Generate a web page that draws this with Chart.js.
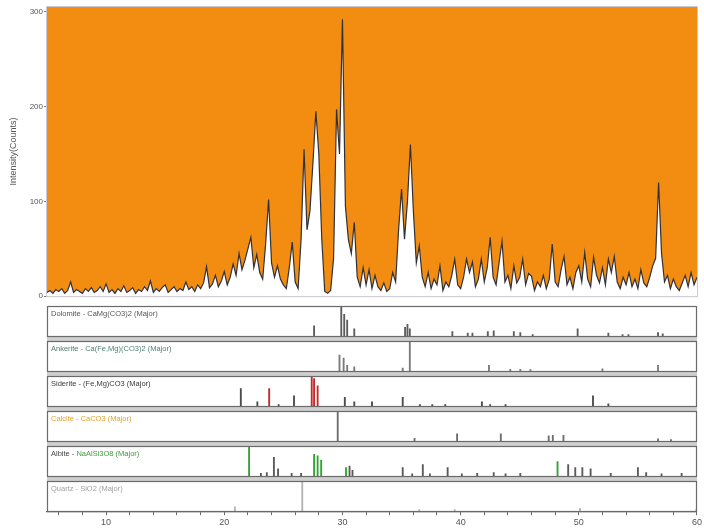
<!DOCTYPE html>
<html>
<head>
<meta charset="utf-8">
<script src="https://cdn.jsdelivr.net/npm/chart.js@4.4.1/dist/chart.umd.min.js"></script>
<style>
  body { margin: 0; background: #fff; }
  #wrap { position: relative; width: 704px; height: 530px; }
  #scan { position: absolute; left: 0; top: 0; }
  #sticks { position: absolute; left: 0; top: 302px; }
</style>
</head>
<body>
<div id="wrap">
  <canvas id="scan" width="704" height="302"></canvas>
  <canvas id="sticks" width="704" height="228"></canvas>
</div>
<script>
// measured scan, one value every 0.25 deg 2-theta starting at 5
const scanStart = 5;
const scanStep = 0.25;
const counts = [
  4, 6, 3, 7,        // 5
  5, 8, 3, 6,        // 6
  15, 4, 7, 5,       // 7
  3, 8, 5, 9,        // 8
  4, 6, 10, 5,       // 9
  13, 4, 7, 3,       // 10
  8, 5, 11, 4,       // 11
  6, 9, 3, 7,        // 12
  5, 10, 6, 16,      // 13
  4, 8, 5, 9,        // 14
  12, 4, 7, 10,      // 15
  5, 8, 6, 15,       // 16
  7, 10, 5, 12,      // 17
  8, 14, 31, 9,      // 18
  13, 22, 10, 16,    // 19
  26, 12, 20, 34,    // 20
  22, 45, 28, 38,    // 21
  50, 62, 30, 44,    // 22
  25, 18, 55, 102,   // 23
  35, 20, 32, 18,    // 24
  12, 8, 30, 57,     // 25
  15, 8, 60, 155,    // 26
  70, 90, 140, 195,  // 27
  150, 60, 5, 3,     // 28
  6, 40, 197, 150,   // 29
  292, 95, 60, 45,   // 30
  78, 20, 10, 30,    // 31
  12, 28, 8, 22,     // 32
  10, 6, 14, 5,      // 33
  8, 25, 15, 70,     // 34
  113, 60, 100, 160, // 35
  90, 35, 53, 20,    // 36
  10, 25, 8, 18,     // 37
  12, 32, 6, 15,     // 38
  10, 22, 39, 12,    // 39
  8, 20, 39, 25,     // 40
  36, 10, 18, 39,    // 41
  15, 30, 62, 20,    // 42
  12, 35, 58, 15,    // 43
  22, 8, 32, 14,     // 44
  20, 39, 12, 24,    // 45
  21, 6, 15, 10,     // 46
  22, 8, 18, 55,     // 47
  15, 10, 28, 42,    // 48
  12, 20, 8, 25,     // 49
  32, 15, 46, 18,    // 50
  10, 41, 22, 14,    // 51
  30, 12, 39, 25,    // 52
  42, 15, 8, 20,     // 53
  12, 25, 10, 18,    // 54
  8, 28, 14, 10,     // 55
  20, 32, 40, 120,   // 56
  45, 15, 22, 8,     // 57
  18, 10, 6, 14,     // 58
  22, 10, 25, 12,    // 59
  20                 // 60
];
const countTicks = [0, 100, 200, 300];
const angleTicks = [6, 8, 10, 12, 14, 16, 18, 20, 22, 24, 26, 28, 30, 32, 34, 36, 38, 40,
  42, 44, 46, 48, 50, 52, 54, 56, 58, 60];
const angleLabels = [10, 20, 30, 40, 50, 60];

// reference patterns: peak position (deg) and relative intensity (%)
const phaseNames = [
  "Dolomite - CaMg(CO3)2 (Major)",
  "Ankerite - Ca(Fe,Mg)(CO3)2 (Major)",
  "Siderite - (Fe,Mg)CO3 (Major)",
  "Calcite - CaCO3 (Major)",
  "Albite - NaAlSi3O8 (Major)",
  "Quartz - SiO2 (Major)"
];
const dolomiteAngles = [27.6, 29.9, 30.15, 30.4, 31.0, 35.3, 35.5, 35.7, 39.3, 40.6, 41.0, 42.3, 42.8,
  44.5, 45.05, 46.1, 49.9, 52.5, 53.7, 54.2, 56.7, 57.1];
const dolomiteHeights = [35, 100, 75, 55, 25, 30, 40, 25, 15, 10, 10, 15, 18, 15, 12, 5, 25, 10, 5, 5, 12, 8];

const ankeriteAngles = [29.75, 30.1, 30.4, 31.0, 35.1, 35.7, 42.4, 44.2, 45.05, 45.9, 52.0, 56.7];
const ankeriteHeights = [55, 45, 20, 15, 10, 100, 20, 6, 6, 5, 8, 20];

const sideriteAngles = [21.4, 22.8, 24.6, 25.9, 30.2, 31.0, 32.5, 35.1, 36.55, 37.6, 38.7, 41.8, 42.5,
  43.8, 51.2, 52.5];
const sideriteHeights = [60, 15, 5, 35, 30, 15, 15, 30, 5, 5, 5, 15, 5, 5, 35, 8];
const sideriteStrongAngles = [23.8, 27.4, 27.6, 27.9];
const sideriteStrongHeights = [60, 100, 95, 70];

const calciteAngles = [29.6, 36.1, 39.7, 43.4, 47.45, 47.8, 48.7, 56.7, 57.8];
const calciteHeights = [100, 10, 25, 25, 18, 20, 20, 8, 5];

const albiteAngles = [23.1, 23.6, 24.2, 24.55, 25.7, 26.5, 30.6, 30.85, 35.1, 35.9, 36.8, 37.4, 38.9,
  40.1, 41.4, 42.8, 43.8, 45.05, 49.1, 49.7, 50.3, 51.0, 52.7, 55.0, 55.7, 57.0, 58.7];
const albiteHeights = [10, 12, 65, 25, 10, 10, 35, 20, 30, 8, 40, 8, 30, 8, 10, 12, 8, 10, 40, 30, 30,
  25, 10, 30, 12, 8, 10];
const albiteStrongAngles = [22.1, 27.6, 27.9, 28.2, 30.3, 48.2];
const albiteStrongHeights = [100, 75, 70, 55, 30, 50];

const quartzAngles = [20.9, 26.6, 36.5, 39.5, 50.1, 59.95];
const quartzHeights = [15, 100, 6, 6, 10, 8];

// stick panel layout (in y units of the stick chart)
const PANEL_H = 30;
const PANEL_GAP = 5;
const PANEL_COUNT = 6;
const Y_MAX = PANEL_COUNT * PANEL_H + (PANEL_COUNT - 1) * PANEL_GAP;
const STICK_SPAN = 29;
const FONT = "'Liberation Sans', Arial, sans-serif";

const panelTop = (k) => Y_MAX - k * (PANEL_H + PANEL_GAP);

function toSticks(angles, heights, panel) {
  const base = panelTop(panel) - PANEL_H;
  return angles.map((a, i) => ({ x: a, y: [base, base + (heights[i] / 100) * STICK_SPAN] }));
}

const scanPoints = counts.map((c, i) => ({ x: scanStart + i * scanStep, y: c }));

const plotBackground = {
  id: "plotBackground",
  beforeDraw(chart) {
    const { ctx, chartArea: a } = chart;
    ctx.save();
    ctx.fillStyle = "#f28d12";
    ctx.fillRect(a.left, a.top, a.right - a.left, a.bottom - a.top);
    ctx.restore();
  },
  afterDatasetsDraw(chart) {
    const { ctx, chartArea: a } = chart;
    ctx.save();
    ctx.strokeStyle = "#c9c9d9";
    ctx.lineWidth = 1;
    ctx.strokeRect(Math.round(a.left) - 0.5, Math.round(a.top) - 0.5, a.right - a.left + 1, a.bottom - a.top + 1);
    ctx.restore();
  }
};

new Chart(document.getElementById("scan"), {
  type: "line",
  data: {
    datasets: [
      {
        data: scanPoints,
        borderColor: "#303039",
        borderWidth: 1.2,
        backgroundColor: "#ffffff",
        fill: "origin",
        pointRadius: 0,
        tension: 0,
      },
    ],
  },
  options: {
    responsive: false,
    animation: false,
    layout: { padding: { top: 7, right: 7, bottom: 5, left: 8 } },
    plugins: { legend: { display: false }, tooltip: { enabled: false } },
    scales: {
      x: { type: "linear", min: 5, max: 60, display: false },
      y: {
        min: 0,
        max: 305,
        afterBuildTicks: (s) => {
          s.ticks = countTicks.map((v) => ({ value: v }));
        },
        afterFit: (s) => {
          s.width = 39;
        },
        grid: { drawOnChartArea: false, tickLength: 3, color: "#777" },
        border: { color: "#9a9aa8" },
        ticks: { color: "#555", padding: 1, font: { size: 8, family: FONT } },
        title: {
          display: true,
          text: "Intensity(Counts)",
          color: "#555",
          padding: 0,
          font: { size: 9, family: FONT },
        },
      },
    },
  },
  plugins: [plotBackground],
});

const labelColors = ["#555555", "#4f7f74", "#3a3a3a", "#e2a22a", "#3f9a3f", "#a0a0a0"];

const panelFrames = {
  id: "panelFrames",
  beforeDatasetsDraw(chart) {
    const { ctx, chartArea: a, scales: { y } } = chart;
    ctx.save();
    ctx.fillStyle = "#cfcfcf";
    ctx.fillRect(a.left, a.top, a.right - a.left, a.bottom - a.top);
    ctx.fillStyle = "#ffffff";
    for (let k = 0; k < PANEL_COUNT; k++) {
      const top = y.getPixelForValue(panelTop(k));
      const bottom = y.getPixelForValue(panelTop(k) - PANEL_H);
      ctx.fillRect(a.left, top, a.right - a.left, bottom - top);
    }
    ctx.restore();
  },
  afterDatasetsDraw(chart) {
    const { ctx, chartArea: a, scales: { y } } = chart;
    ctx.save();
    ctx.strokeStyle = "#6a6a6a";
    ctx.lineWidth = 1.2;
    ctx.font = "7.5px " + FONT;
    ctx.textBaseline = "middle";
    for (let k = 0; k < PANEL_COUNT; k++) {
      const top = Math.round(y.getPixelForValue(panelTop(k))) + 0.5;
      const bottom = Math.round(y.getPixelForValue(panelTop(k) - PANEL_H)) + 0.5;
      ctx.strokeRect(Math.round(a.left) + 0.5, top, Math.round(a.right - a.left) - 1, bottom - top);
      const name = phaseNames[k];
      const cut = name.indexOf(" - ") + 3;
      // mineral name dark, formula in the phase colour (as on the instrument print-out)
      const lead = k === 4 ? name.slice(0, cut) : "";
      ctx.fillStyle = "#444";
      ctx.fillText(lead, a.left + 4, top + 7);
      ctx.fillStyle = labelColors[k];
      ctx.fillText(name.slice(lead.length), a.left + 4 + ctx.measureText(lead).width, top + 7);
    }
    ctx.restore();
  }
};

new Chart(document.getElementById("sticks"), {
  type: "bar",
  data: {
    datasets: [
      { data: toSticks(dolomiteAngles, dolomiteHeights, 0), backgroundColor: "#5c5c5c" },
      { data: toSticks(ankeriteAngles, ankeriteHeights, 1), backgroundColor: "#7a7a7a" },
      { data: toSticks(sideriteAngles, sideriteHeights, 2), backgroundColor: "#4a4a4a" },
      { data: toSticks(sideriteStrongAngles, sideriteStrongHeights, 2), backgroundColor: "#c22a2a" },
      { data: toSticks(calciteAngles, calciteHeights, 3), backgroundColor: "#6e6e6e" },
      { data: toSticks(albiteAngles, albiteHeights, 4), backgroundColor: "#5a5a5a" },
      { data: toSticks(albiteStrongAngles, albiteStrongHeights, 4), backgroundColor: "#35a035" },
      { data: toSticks(quartzAngles, quartzHeights, 5), backgroundColor: "#b4b4b4" },
    ],
  },
  options: {
    responsive: false,
    animation: false,
    layout: { padding: { top: 4, right: 7, bottom: 0, left: 47 } },
    datasets: { bar: { grouped: false, barThickness: 1.2, borderWidth: 0 } },
    plugins: { legend: { display: false }, tooltip: { enabled: false } },
    scales: {
      x: {
        type: "linear",
        min: 5,
        max: 60,
        offset: false,
        afterBuildTicks: (s) => {
          s.ticks = angleTicks.map((v) => ({ value: v }));
        },
        grid: { offset: false, drawOnChartArea: false, tickLength: 4, color: "#666" },
        border: { color: "#555", width: 1.2 },
        ticks: {
          color: "#555",
          padding: 2,
          maxRotation: 0,
          autoSkip: false,
          font: { size: 9, family: FONT },
          callback: (v) => (angleLabels.includes(v) ? String(v) : ""),
        },
      },
      y: { min: 0, max: Y_MAX, display: false },
    },
  },
  plugins: [panelFrames],
});
</script>
</body>
</html>
